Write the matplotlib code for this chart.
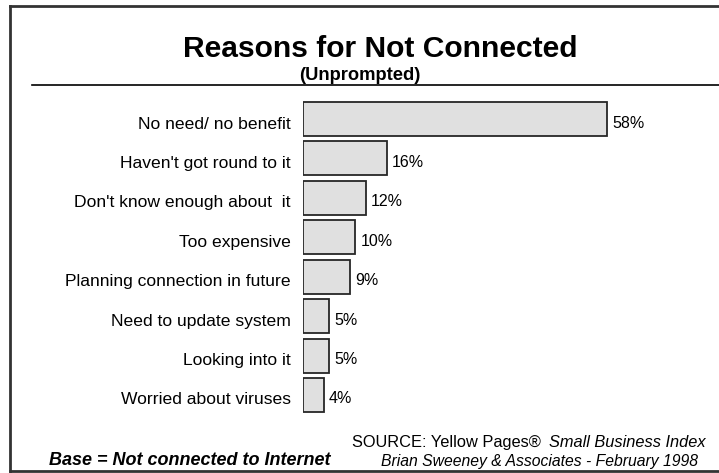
import matplotlib
matplotlib.use("Agg")
import matplotlib.pyplot as plt
from matplotlib.lines import Line2D

reasons = [
    "No need/ no benefit",
    "Haven't got round to it",
    "Don't know enough about  it",
    "Too expensive",
    "Planning connection in future",
    "Need to update system",
    "Looking into it",
    "Worried about viruses",
]
percent = [58, 16, 12, 10, 9, 5, 5, 4]

W, H = 719, 473
DPI = 100
plt.rcParams["font.family"] = ["Liberation Sans", "DejaVu Sans"]

fig = plt.figure(figsize=(W / DPI, H / DPI), dpi=DPI)


def fx(px):
    return px / W


def fy(py):
    return 1 - py / H


# plot area in pixel units
ax_left, ax_right, ax_top, ax_bottom = 303, 719, 99.3, 414.7
ax = fig.add_axes([fx(ax_left), fy(ax_bottom), fx(ax_right - ax_left), (ax_bottom - ax_top) / H])
px_per_pct = 5.24
ax.set_xlim(0, (ax_right - ax_left) / px_per_pct)
ax.set_ylim(len(reasons) - 0.5, -0.5)
ax.axis("off")

ypos = list(range(len(reasons)))
ax.barh(ypos, percent, height=0.86, color="#e0e0e0", edgecolor="#262626", linewidth=1.3)

for y, name, v in zip(ypos, reasons, percent):
    ax.annotate(name, xy=(0, y), xycoords=("axes fraction", "data"),
                xytext=(-12, -5), textcoords="offset pixels",
                ha="right", va="center", fontsize=12.6, color="black")
    ax.annotate(f"{v}%", xy=(v, y), xycoords="data",
                xytext=(5, -4), textcoords="offset pixels",
                ha="left", va="center", fontsize=11.5, color="black")

# titles
fig.text(fx(380), fy(57), "Reasons for Not Connected", ha="center", va="baseline",
         fontsize=21.6, fontweight="bold")
fig.text(fx(360), fy(80), "(Unprompted)", ha="center", va="baseline",
         fontsize=13.2, fontweight="bold")
fig.add_artist(Line2D([fx(32), fx(719)], [fy(85), fy(85)], color="black", linewidth=1.2))

# frame
frame_kw = dict(color="#333333", linewidth=2.0)
fig.add_artist(Line2D([fx(10), fx(719)], [fy(6), fy(6)], **frame_kw))
fig.add_artist(Line2D([fx(10), fx(10)], [fy(6), fy(471)], **frame_kw))
fig.add_artist(Line2D([fx(10), fx(719)], [fy(471), fy(471)], **frame_kw))

# footer
src_right = fig.text(fx(706), fy(447), "Small Business Index", ha="right", va="baseline",
                     fontsize=11.8, fontstyle="italic")
fig.canvas.draw()
bb = src_right.get_window_extent()
fig.text((bb.x0 - 9) / W, fy(447), "SOURCE: Yellow Pages\u00ae", ha="right", va="baseline",
         fontsize=11.8)
fig.text(fx(49), fy(465), "Base = Not connected to Internet", ha="left", va="baseline",
         fontsize=13, fontweight="bold", fontstyle="italic")
fig.text(fx(698), fy(466), "Brian Sweeney & Associates - February 1998", ha="right",
         va="baseline", fontsize=11.3, fontstyle="italic")

fig.savefig("out.png", dpi=DPI)
